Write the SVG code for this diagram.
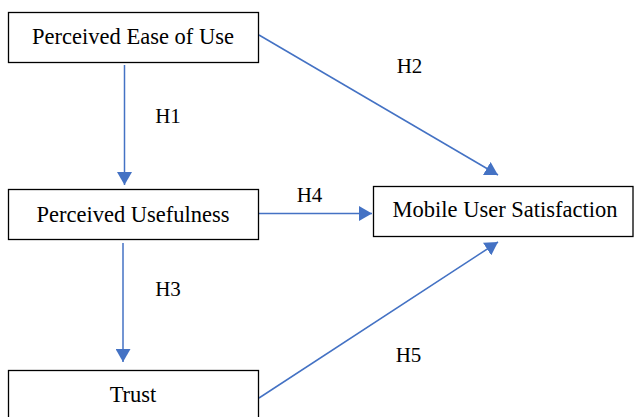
<svg xmlns="http://www.w3.org/2000/svg" width="634" height="417" viewBox="0 0 634 417">
  <style>
    .box { fill: #ffffff; stroke: #000000; stroke-width: 1.3; }
    text { fill: #000000; text-anchor: middle; }
    .lbl { font-size: 22.5px; }
    .hyp { font-size: 21px; }
    .edge { stroke: #4472C4; stroke-width: 1.5; fill: none; marker-end: url(#arrow); }
  </style>
  <defs>
    <marker id="arrow" markerUnits="userSpaceOnUse" markerWidth="14" markerHeight="15" refX="13" refY="7.5" orient="auto">
      <path d="M0,0 L13,7.5 L0,15 Z" fill="#4472C4"/>
    </marker>
  </defs>
  <rect width="634" height="417" fill="#ffffff"/>

  <g id="connectors" font-family="Liberation Serif, Times New Roman, serif">
    <line class="edge" x1="124.5" y1="65" x2="124.5" y2="185"/>
    <line class="edge" x1="123" y1="243" x2="123" y2="362"/>
    <line class="edge" x1="259" y1="35" x2="498" y2="175"/>
    <line class="edge" x1="259" y1="213.5" x2="372" y2="213.5"/>
    <line class="edge" x1="259" y1="398" x2="498" y2="242"/>
    <text class="hyp" x="168" y="122.7">H1</text>
    <text class="hyp" x="409.5" y="73.3">H2</text>
    <text class="hyp" x="168" y="296">H3</text>
    <text class="hyp" x="309.5" y="201.7">H4</text>
    <text class="hyp" x="408.5" y="361.7">H5</text>
  </g>

  <g id="nodes" font-family="Liberation Serif, Times New Roman, serif">
    <g id="node-ease">
      <rect class="box" x="8.5" y="12.5" width="250" height="50"/>
      <text class="lbl" x="133" y="44.3">Perceived Ease of Use</text>
    </g>
    <g id="node-usefulness">
      <rect class="box" x="8.5" y="189.5" width="250" height="50"/>
      <text class="lbl" x="133" y="222.3">Perceived Usefulness</text>
    </g>
    <g id="node-trust">
      <rect class="box" x="8.5" y="370.5" width="250" height="50"/>
      <text class="lbl" x="133" y="402">Trust</text>
    </g>
    <g id="node-satisfaction">
      <rect class="box" x="373.5" y="186.5" width="259.5" height="50"/>
      <text class="lbl" x="505" y="217.3">Mobile User Satisfaction</text>
    </g>
  </g>
</svg>
